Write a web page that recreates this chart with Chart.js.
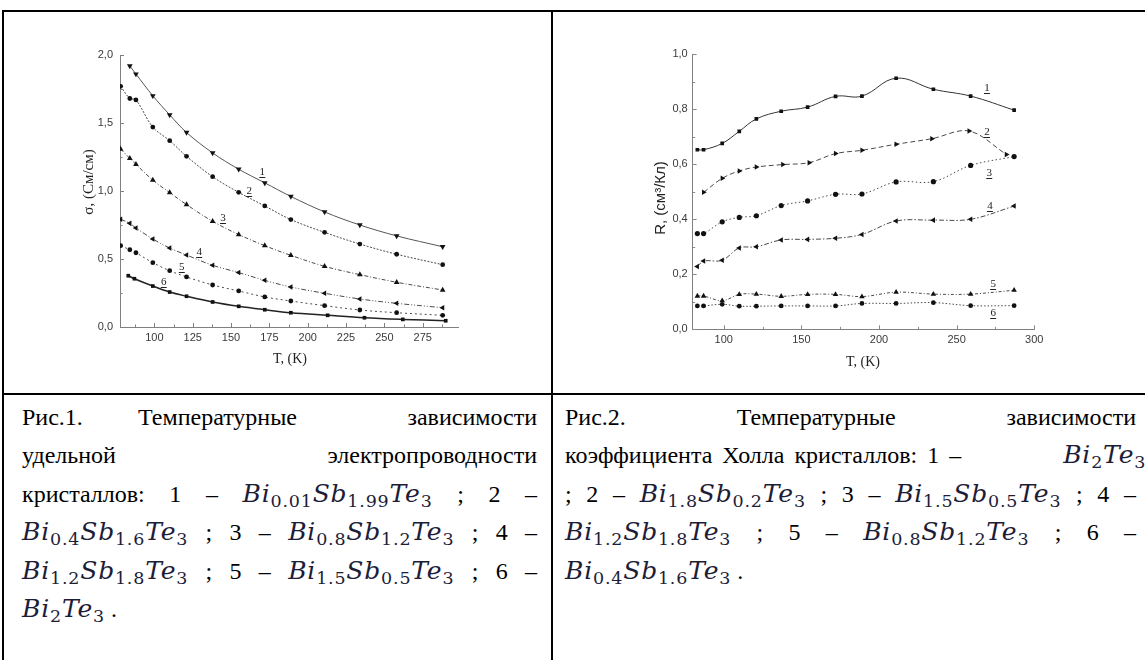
<!DOCTYPE html>
<html lang="ru">
<head>
<meta charset="utf-8">
<title>Температурные зависимости</title>
<script src="https://cdn.jsdelivr.net/npm/chart.js@4.4.1/dist/chart.umd.min.js"></script>
<style>
  html, body { margin: 0; padding: 0; background: #fff; }
  body { width: 1145px; height: 660px; position: relative; overflow: hidden; }
  .rule { position: absolute; background: #000; z-index: 2; }
  canvas { position: absolute; top: 0; }
  .caption {
    position: absolute;
    font-family: "Liberation Serif", "Times New Roman", serif;
    font-size: 24px;
    line-height: 38.4px;
    color: #000;
  }
  .caption .ln { text-align: justify; text-align-last: justify; white-space: nowrap; }
  .caption .ln.pre { white-space: pre-wrap; }
  .caption .ln.left { text-align: left; text-align-last: left; }
  .f { font-family: "DejaVu Serif", serif; font-style: italic; font-size: 25px; letter-spacing: 0.8px; color: #1d1d38; }
  .f sub { font-style: normal; font-size: 0.7em; vertical-align: -0.3em; line-height: 0; }
</style>
</head>
<body>

<div class="rule" style="left:2px; top:10px; width:1143px; height:2px;"></div>
<div class="rule" style="left:2px; top:10px; width:2px; height:650px;"></div>
<div class="rule" style="left:551px; top:10px; width:2px; height:650px;"></div>
<div class="rule" style="left:2px; top:393px; width:1143px; height:2px;"></div>

<canvas id="sigmaChart" width="552" height="394" style="left:0;"></canvas>
<canvas id="hallChart" width="593" height="394" style="left:552px;"></canvas>

<div class="caption" style="left:22px; top:398px; width:515px;">
  <div class="ln pre">Рис.1. Температурные  зависимости</div>
  <div class="ln">удельной электропроводности</div>
  <div class="ln">кристаллов: 1 – <span class="f">Bi<sub>0.01</sub>Sb<sub>1.99</sub>Te<sub>3</sub></span> ; 2 –</div>
  <div class="ln"><span class="f">Bi<sub>0.4</sub>Sb<sub>1.6</sub>Te<sub>3</sub></span> ; 3 – <span class="f">Bi<sub>0.8</sub>Sb<sub>1.2</sub>Te<sub>3</sub></span> ; 4 –</div>
  <div class="ln"><span class="f">Bi<sub>1.2</sub>Sb<sub>1.8</sub>Te<sub>3</sub></span> ; 5 – <span class="f">Bi<sub>1.5</sub>Sb<sub>0.5</sub>Te<sub>3</sub></span> ; 6 –</div>
  <div class="ln left"><span class="f">Bi<sub>2</sub>Te<sub>3</sub></span> .</div>
</div>

<div class="caption" style="left:565px; top:398px; width:571px;">
  <div class="ln">Рис.2. Температурные зависимости</div>
  <div class="ln left" style="word-spacing:4px;">коэффициента Холла кристаллов: 1 – <span class="f" style="margin-left:92px; word-spacing:0;">Bi<sub>2</sub>Te<sub>3</sub></span></div>
  <div class="ln">; 2 – <span class="f">Bi<sub>1.8</sub>Sb<sub>0.2</sub>Te<sub>3</sub></span> ; 3 – <span class="f">Bi<sub>1.5</sub>Sb<sub>0.5</sub>Te<sub>3</sub></span> ; 4 –</div>
  <div class="ln"><span class="f">Bi<sub>1.2</sub>Sb<sub>1.8</sub>Te<sub>3</sub></span> ; 5 – <span class="f">Bi<sub>0.8</sub>Sb<sub>1.2</sub>Te<sub>3</sub></span> ; 6 –</div>
  <div class="ln left"><span class="f">Bi<sub>0.4</sub>Sb<sub>1.6</sub>Te<sub>3</sub></span> .</div>
</div>

<script>
// --- Рис.1: удельная электропроводность, См/см ---
const tSigma = [78, 84, 88, 99, 110, 121, 138, 155, 172, 189, 211, 234, 258, 288];
const tSigma6 = [83, 87, 99, 110, 121, 138, 155, 172, 189, 213, 237, 262, 290];
const sigma1 = [null, 1.92, 1.86, 1.70, 1.56, 1.43, 1.28, 1.16, 1.06, 0.96, 0.846, 0.75, 0.67, 0.59];
const sigma2 = [1.77, 1.68, 1.67, 1.47, 1.37, 1.255, 1.105, 0.99, 0.89, 0.79, 0.696, 0.61, 0.535, 0.458];
const sigma3 = [1.309, 1.24, 1.196, 1.08, 0.988, 0.90, 0.777, 0.68, 0.598, 0.527, 0.446, 0.385, 0.329, 0.272];
const sigma4 = [0.792, 0.762, 0.728, 0.647, 0.581, 0.529, 0.454, 0.40, 0.343, 0.294, 0.248, 0.206, 0.174, 0.142];
const sigma5 = [0.598, 0.568, 0.546, 0.473, 0.414, 0.368, 0.309, 0.265, 0.221, 0.191, 0.157, 0.125, 0.105, 0.086];
const sigma6 = [0.377, 0.355, 0.301, 0.257, 0.226, 0.184, 0.152, 0.127, 0.105, 0.086, 0.068, 0.056, 0.046];

const sigmaXTicks = [100, 125, 150, 175, 200, 225, 250, 275];
const sigmaXMinor = [87.5, 112.5, 137.5, 162.5, 187.5, 212.5, 237.5, 262.5, 287.5];
const sigmaYTicks = [0, 0.5, 1.0, 1.5, 2.0];
const sigmaYMinor = [0.25, 0.75, 1.25, 1.75];

// --- Рис.2: коэффициент Холла, см³/Кл ---
const tHall = [83, 87, 99, 110, 121, 137, 154, 172, 189, 211, 235, 259, 287];
const tHall2 = [87, 99, 110, 121, 138, 155, 172, 189, 211, 234, 258, 282];
const hall1 = [0.653, 0.653, 0.676, 0.72, 0.765, 0.793, 0.808, 0.847, 0.848, 0.913, 0.873, 0.848, 0.797];
const hall2 = [0.498, 0.549, 0.576, 0.59, 0.599, 0.606, 0.639, 0.651, 0.673, 0.693, 0.721, 0.636];
const hall3 = [0.348, 0.348, 0.391, 0.407, 0.413, 0.45, 0.467, 0.491, 0.492, 0.536, 0.537, 0.596, 0.628];
const hall4 = [0.228, 0.248, 0.251, 0.296, 0.30, 0.325, 0.327, 0.331, 0.345, 0.394, 0.397, 0.40, 0.448];
const hall5 = [0.121, 0.121, 0.104, 0.127, 0.128, 0.12, 0.127, 0.127, 0.119, 0.135, 0.128, 0.128, 0.142];
const hall6 = [0.085, 0.085, 0.091, 0.084, 0.084, 0.085, 0.085, 0.085, 0.094, 0.094, 0.097, 0.086, 0.086];

const hallXTicks = [100, 150, 200, 250, 300];
const hallXMinor = [125, 175, 225, 275];
const hallYTicks = [0, 0.2, 0.4, 0.6, 0.8, 1.0];
const hallYMinor = [0.1, 0.3, 0.5, 0.7, 0.9];

const tickFont = { family: "'Liberation Sans', Arial, sans-serif", size: 11 };
const tickColor = '#3a3a3a';

// pairs T values with a series, skipping missing points
function points(ts, vals) {
    const out = [];
    ts.forEach((t, i) => {
        if (vals[i] !== null && vals[i] !== undefined) out.push({ x: t, y: vals[i] });
    });
    return out;
}

function series(ts, vals, style) {
    return Object.assign({
        data: points(ts, vals),
        borderColor: '#4a4a4a',
        borderWidth: 1,
        pointBackgroundColor: '#111',
        pointBorderColor: '#111',
        pointBorderWidth: 0,
        pointRadius: 2.4,
        pointStyle: 'circle',
        tension: 0.35,
        fill: false
    }, style);
}

// inward tick marks, axis titles and the underlined curve numbers
const figureAxes = {
    id: 'figureAxes',
    afterDraw(chart, args, opts) {
        const ctx = chart.ctx;
        const xs = chart.scales.x, ys = chart.scales.y;
        const a = chart.chartArea;
        ctx.save();
        ctx.strokeStyle = opts.axisColor;
        ctx.lineWidth = 1;
        ctx.beginPath();
        const xTick = (v, len) => {
            const px = Math.round(xs.getPixelForValue(v)) + 0.5;
            ctx.moveTo(px, a.bottom);
            ctx.lineTo(px, a.bottom - len);
        };
        const yTick = (v, len) => {
            const py = Math.round(ys.getPixelForValue(v)) + 0.5;
            ctx.moveTo(a.left, py);
            ctx.lineTo(a.left + len, py);
        };
        opts.xMajor.forEach(v => xTick(v, 4));
        opts.xMinor.forEach(v => xTick(v, 2.5));
        opts.yMajor.forEach(v => yTick(v, 4));
        opts.yMinor.forEach(v => yTick(v, 2.5));
        ctx.stroke();

        ctx.fillStyle = '#222';
        ctx.textAlign = 'center';
        ctx.textBaseline = 'middle';
        ctx.font = opts.xTitleFont;
        ctx.fillText(opts.xTitle, opts.xTitlePos[0], opts.xTitlePos[1]);

        ctx.save();
        ctx.translate(opts.yTitlePos[0], opts.yTitlePos[1]);
        ctx.rotate(-Math.PI / 2);
        ctx.font = opts.yTitleFont;
        ctx.fillText(opts.yTitle, 0, 0);
        ctx.restore();

        ctx.font = "11px 'Liberation Serif', serif";
        ctx.textBaseline = 'alphabetic';
        ctx.strokeStyle = '#222';
        opts.tags.forEach(tag => {
            const px = xs.getPixelForValue(tag.x);
            const py = ys.getPixelForValue(tag.y);
            ctx.fillText(tag.text, px, py + 3);
            ctx.beginPath();
            ctx.moveTo(px - 3, Math.round(py + 5) + 0.5);
            ctx.lineTo(px + 3, Math.round(py + 5) + 0.5);
            ctx.stroke();
        });
        ctx.restore();
    }
};

function axis(min, max, ticks, fmt, fitSize, isX, pad) {
    return {
        type: 'linear',
        min: min,
        max: max,
        grid: { display: false, drawTicks: false },
        border: { display: true, color: '#808080', width: 1 },
        ticks: {
            font: tickFont,
            color: tickColor,
            padding: pad,
            autoSkip: false,
            maxRotation: 0,
            callback: fmt
        },
        afterBuildTicks: s => { s.ticks = ticks.map(v => ({ value: v })); },
        afterFit: s => { if (isX) s.height = fitSize; else s.width = fitSize; }
    };
}

const commaFmt = v => Number(v).toFixed(1).replace('.', ',');
const plainFmt = v => String(v);

new Chart(document.getElementById('sigmaChart'), {
    type: 'line',
    data: {
        datasets: [
            series(tSigma, sigma1, { borderColor: '#555', pointStyle: 'triangle', pointRotation: 180, pointRadius: 3.3 }),
            series(tSigma, sigma2, { borderDash: [2, 1.5] }),
            series(tSigma, sigma3, { borderDash: [4, 2, 1, 2], pointStyle: 'triangle', pointRadius: 3.3 }),
            series(tSigma, sigma4, { borderDash: [5, 2, 1, 2, 1, 2], pointStyle: 'triangle', pointRotation: -90, pointRadius: 3.2 }),
            series(tSigma, sigma5, { borderDash: [2, 3] }),
            series(tSigma6, sigma6, { borderColor: '#222', borderWidth: 1.5, pointStyle: 'rect', pointRadius: 2.6 })
        ]
    },
    options: {
        responsive: false,
        animation: false,
        devicePixelRatio: 1,
        layout: { padding: { top: 55, right: 94, bottom: 0, left: 0 } },
        plugins: {
            legend: { display: false },
            tooltip: { enabled: false },
            figureAxes: {
                axisColor: '#808080',
                xMajor: sigmaXTicks, xMinor: sigmaXMinor,
                yMajor: sigmaYTicks, yMinor: sigmaYMinor,
                xTitle: 'T, (K)', xTitleFont: "14px 'Liberation Serif', serif", xTitlePos: [290, 359],
                yTitle: 'σ, (См/см)', yTitleFont: "15px 'Liberation Serif', serif", yTitlePos: [89, 182],
                tags: [
                    { x: 170.4, y: 1.142, text: '1' },
                    { x: 161.8, y: 1.002, text: '2' },
                    { x: 144.8, y: 0.80, text: '3' },
                    { x: 129.2, y: 0.554, text: '4' },
                    { x: 117.9, y: 0.441, text: '5' },
                    { x: 106.1, y: 0.333, text: '6' }
                ]
            }
        },
        scales: {
            x: axis(77.6, 298, sigmaXTicks, plainFmt, 67, true, 4),
            y: axis(0, 2, sigmaYTicks, commaFmt, 120, false, 7)
        }
    },
    plugins: [figureAxes]
});

new Chart(document.getElementById('hallChart'), {
    type: 'line',
    data: {
        datasets: [
            series(tHall, hall1, { borderColor: '#333', pointStyle: 'rect', pointRadius: 2.6, tension: 0.4 }),
            series(tHall2, hall2, { borderDash: [5, 3], pointStyle: 'triangle', pointRotation: 90, pointRadius: 3.2 }),
            series(tHall, hall3, { borderDash: [1.5, 2.5], pointRadius: 2.6 }),
            series(tHall, hall4, { borderDash: [5, 2, 1.5, 2], pointStyle: 'triangle', pointRotation: -90, pointRadius: 3.2 }),
            series(tHall, hall5, { borderDash: [3, 2, 1, 2], pointStyle: 'triangle', pointRadius: 3.2 }),
            series(tHall, hall6, { borderDash: [1.5, 2], pointRadius: 2.4 })
        ]
    },
    options: {
        responsive: false,
        animation: false,
        devicePixelRatio: 1,
        layout: { padding: { top: 54.3, right: 110.7, bottom: 0, left: 0 } },
        plugins: {
            legend: { display: false },
            tooltip: { enabled: false },
            figureAxes: {
                axisColor: '#8a8a8a',
                xMajor: hallXTicks, xMinor: hallXMinor,
                yMajor: hallYTicks, yMinor: hallYMinor,
                xTitle: 'T, (K)', xTitleFont: "14px 'Liberation Serif', serif", xTitlePos: [311, 362],
                yTitle: 'R, (см³/Кл)', yTitleFont: "15px 'Liberation Sans', sans-serif", yTitlePos: [109, 198],
                tags: [
                    { x: 269.5, y: 0.879, text: '1' },
                    { x: 269.5, y: 0.719, text: '2' },
                    { x: 271, y: 0.569, text: '3' },
                    { x: 271.4, y: 0.448, text: '4' },
                    { x: 273.5, y: 0.164, text: '5' },
                    { x: 273.5, y: 0.058, text: '6' }
                ]
            }
        },
        scales: {
            x: axis(80, 300, hallXTicks, plainFmt, 64.7, true, 4),
            y: axis(0, 1, hallYTicks, commaFmt, 140.7, false, 5)
        }
    },
    plugins: [figureAxes]
});
</script>
</body>
</html>
